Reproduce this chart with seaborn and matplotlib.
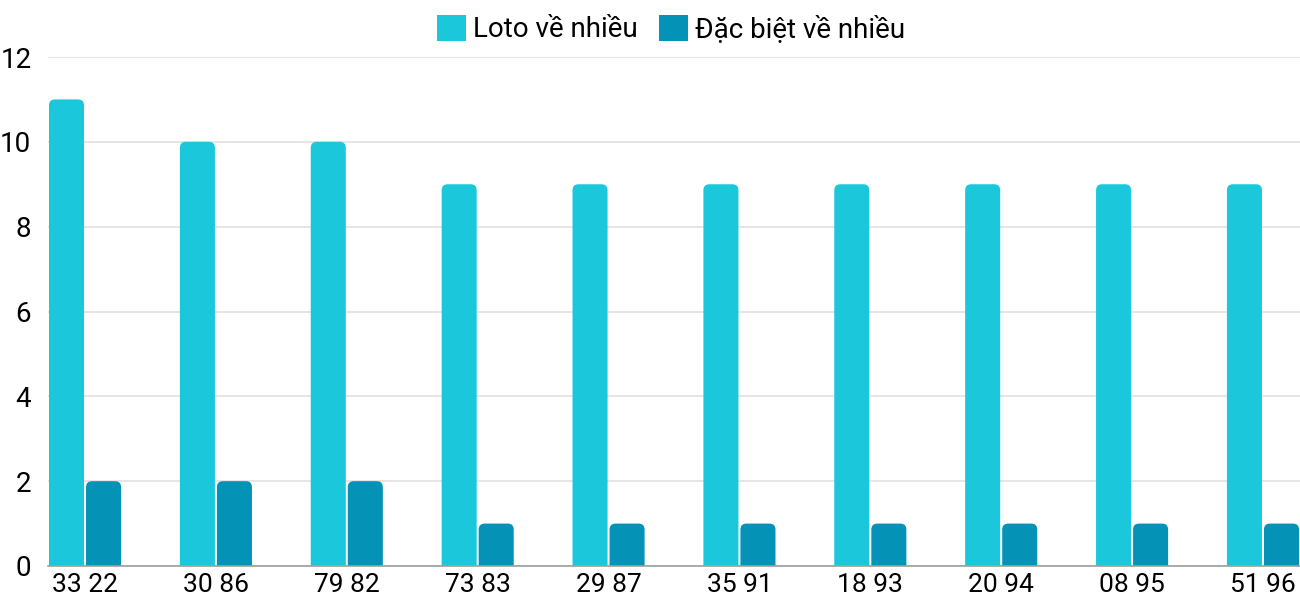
import matplotlib
matplotlib.use("Agg")
import matplotlib.pyplot as plt
import seaborn as sns
import pandas as pd
from matplotlib.patches import FancyBboxPatch, Patch

categories = ["33 22", "30 86", "79 82", "73 83", "29 87", "35 91", "18 93", "20 94", "08 95", "51 96"]
loto = [11, 10, 10, 9, 9, 9, 9, 9, 9, 9]
dacbiet = [2, 2, 2, 1, 1, 1, 1, 1, 1, 1]
series_names = ["Loto về nhiều", "Đặc biệt về nhiều"]
colors = ["#1BC8DB", "#0493B6"]

df = pd.DataFrame({
    "cat": categories * 2,
    "val": loto + dacbiet,
    "series": [series_names[0]] * len(categories) + [series_names[1]] * len(categories),
})

sns.set_style("white")
plt.rcParams["font.family"] = ["Roboto", "DejaVu Sans"]

W, H = 1300, 600
fig = plt.figure(figsize=(13, 6), dpi=100)
ax = fig.add_axes([48 / W, 34 / H, (1300 - 48) / W, (566 - 57) / H])

width = 0.566
sns.barplot(data=df, x="cat", y="val", hue="series", palette=colors, ax=ax,
            width=width, gap=0.054, dodge=True, legend=False, saturation=1)

xmin, xmax = -width / 2, len(categories) - 1 + width / 2
ax.set_xlim(xmin, xmax)
ax.set_ylim(0, 12)

# rounded tops
ax_w_px = 1252
ax_h_px = 509
xu = (xmax - xmin) / ax_w_px
yu = 12 / ax_h_px
r_px = 6
rs = r_px * xu
aspect = yu / xu
bars = list(ax.patches)
for p in bars:
    x, y = p.get_x(), p.get_y()
    w, h = p.get_width(), p.get_height()
    fc = p.get_facecolor()
    p.set_visible(False)
    nb = FancyBboxPatch((x, -r_px * yu * 2), w, h + r_px * yu * 2,
                        boxstyle=f"round,pad=0,rounding_size={rs}",
                        mutation_aspect=aspect, facecolor=fc, edgecolor="none",
                        zorder=3)
    ax.add_patch(nb)

ax.set_yticks([0, 2, 4, 6, 8, 10, 12])
ax.yaxis.grid(True, color="#E0E0E0", linewidth=1.2)
ax.set_axisbelow(True)
ax.set_xlabel("")
ax.set_ylabel("")
for s in ["top", "right", "left"]:
    ax.spines[s].set_visible(False)
ax.spines["bottom"].set_color("#9E9E9E")
ax.spines["bottom"].set_linewidth(1.2)
ax.spines["bottom"].set_zorder(4)
ax.tick_params(axis="y", length=0, pad=12, labelsize=20, labelcolor="#000000")
ax.tick_params(axis="x", length=0, pad=5, labelsize=19, labelcolor="#000000")

handles = [Patch(facecolor=c, edgecolor="none") for c in colors]
fig.legend(handles, series_names, loc="center", bbox_to_anchor=(671 / W, 1 - 29 / H),
           ncol=2, frameon=False, fontsize=20, handlelength=1.05, handleheight=1.05,
           handletextpad=0.25, columnspacing=0.75, labelcolor="#000000")

fig.savefig("out.png", dpi=100)
